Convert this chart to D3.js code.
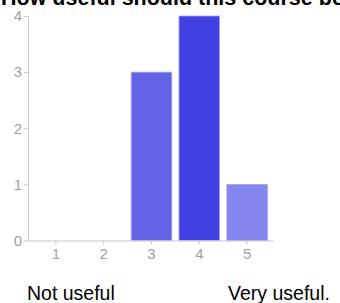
<!DOCTYPE html>
<meta charset="utf-8">
<style>
body { margin: 0; background: #fff; }
svg { display: block; font-family: Arial, "Liberation Sans", sans-serif; }
.axis path, .axis line { stroke: #c8c8c8; }
.axis text { fill: #a0a0a0; font-size: 15px; }
</style>
<svg width="340" height="303"></svg>
<script src="https://cdn.jsdelivr.net/npm/d3@7"></script>
<script>

var categories = ["1", "2", "3", "4", "5"];
var counts = [0, 0, 3, 4, 1];
var barColors = ["#6a6ae9", "#6a6ae9", "#6363e8", "#4141e4", "#8585ee"];
var yTicks = [0, 1, 2, 3, 4];

var svg = d3.select("svg");

var x = d3.scaleBand()
    .domain(categories)
    .range([32, 271])
    .paddingInner(0.15)
    .paddingOuter(0.075);

var y = d3.scaleLinear()
    .domain([0, 4])
    .range([240.5, 16]);

// title, cut off at the top like the original
svg.append("text")
    .attr("x", 1)
    .attr("y", 5)
    .style("font-weight", "bold")
    .style("font-size", "21.5px")
    .attr("fill", "#000")
    .text("How useful should this course be?");

// bars
svg.append("g")
    .selectAll("rect")
    .data(counts)
    .enter().append("rect")
    .attr("x", function(d, i) { return x(categories[i]); })
    .attr("y", function(d) { return y(d); })
    .attr("width", x.bandwidth())
    .attr("height", function(d) { return y(0) - y(d); })
    .attr("fill", function(d, i) { return barColors[i]; })
    .attr("stroke", "#a8a8f4")
    .attr("stroke-width", 0.8);

// y axis
var yAxis = svg.append("g")
    .attr("class", "axis")
    .attr("transform", "translate(28,0)")
    .call(d3.axisLeft(y).tickValues(yTicks).tickSize(4).tickSizeOuter(0).tickFormat(d3.format("d")));
yAxis.selectAll("text").attr("x", -6);

// x axis
var xAxis = svg.append("g")
    .attr("class", "axis")
    .attr("transform", "translate(0," + y(0) + ")")
    .call(d3.axisBottom(x).tickSize(4).tickSizeOuter(0).tickPadding(4));
xAxis.select(".domain").attr("d", "M28,0.5H274");

// end labels
svg.append("text")
    .attr("x", 27)
    .attr("y", 300)
    .style("font-size", "19.5px")
    .attr("fill", "#000")
    .text("Not useful");

svg.append("text")
    .attr("x", 228)
    .attr("y", 300)
    .style("font-size", "19.5px")
    .attr("fill", "#000")
    .text("Very useful.");

</script>
